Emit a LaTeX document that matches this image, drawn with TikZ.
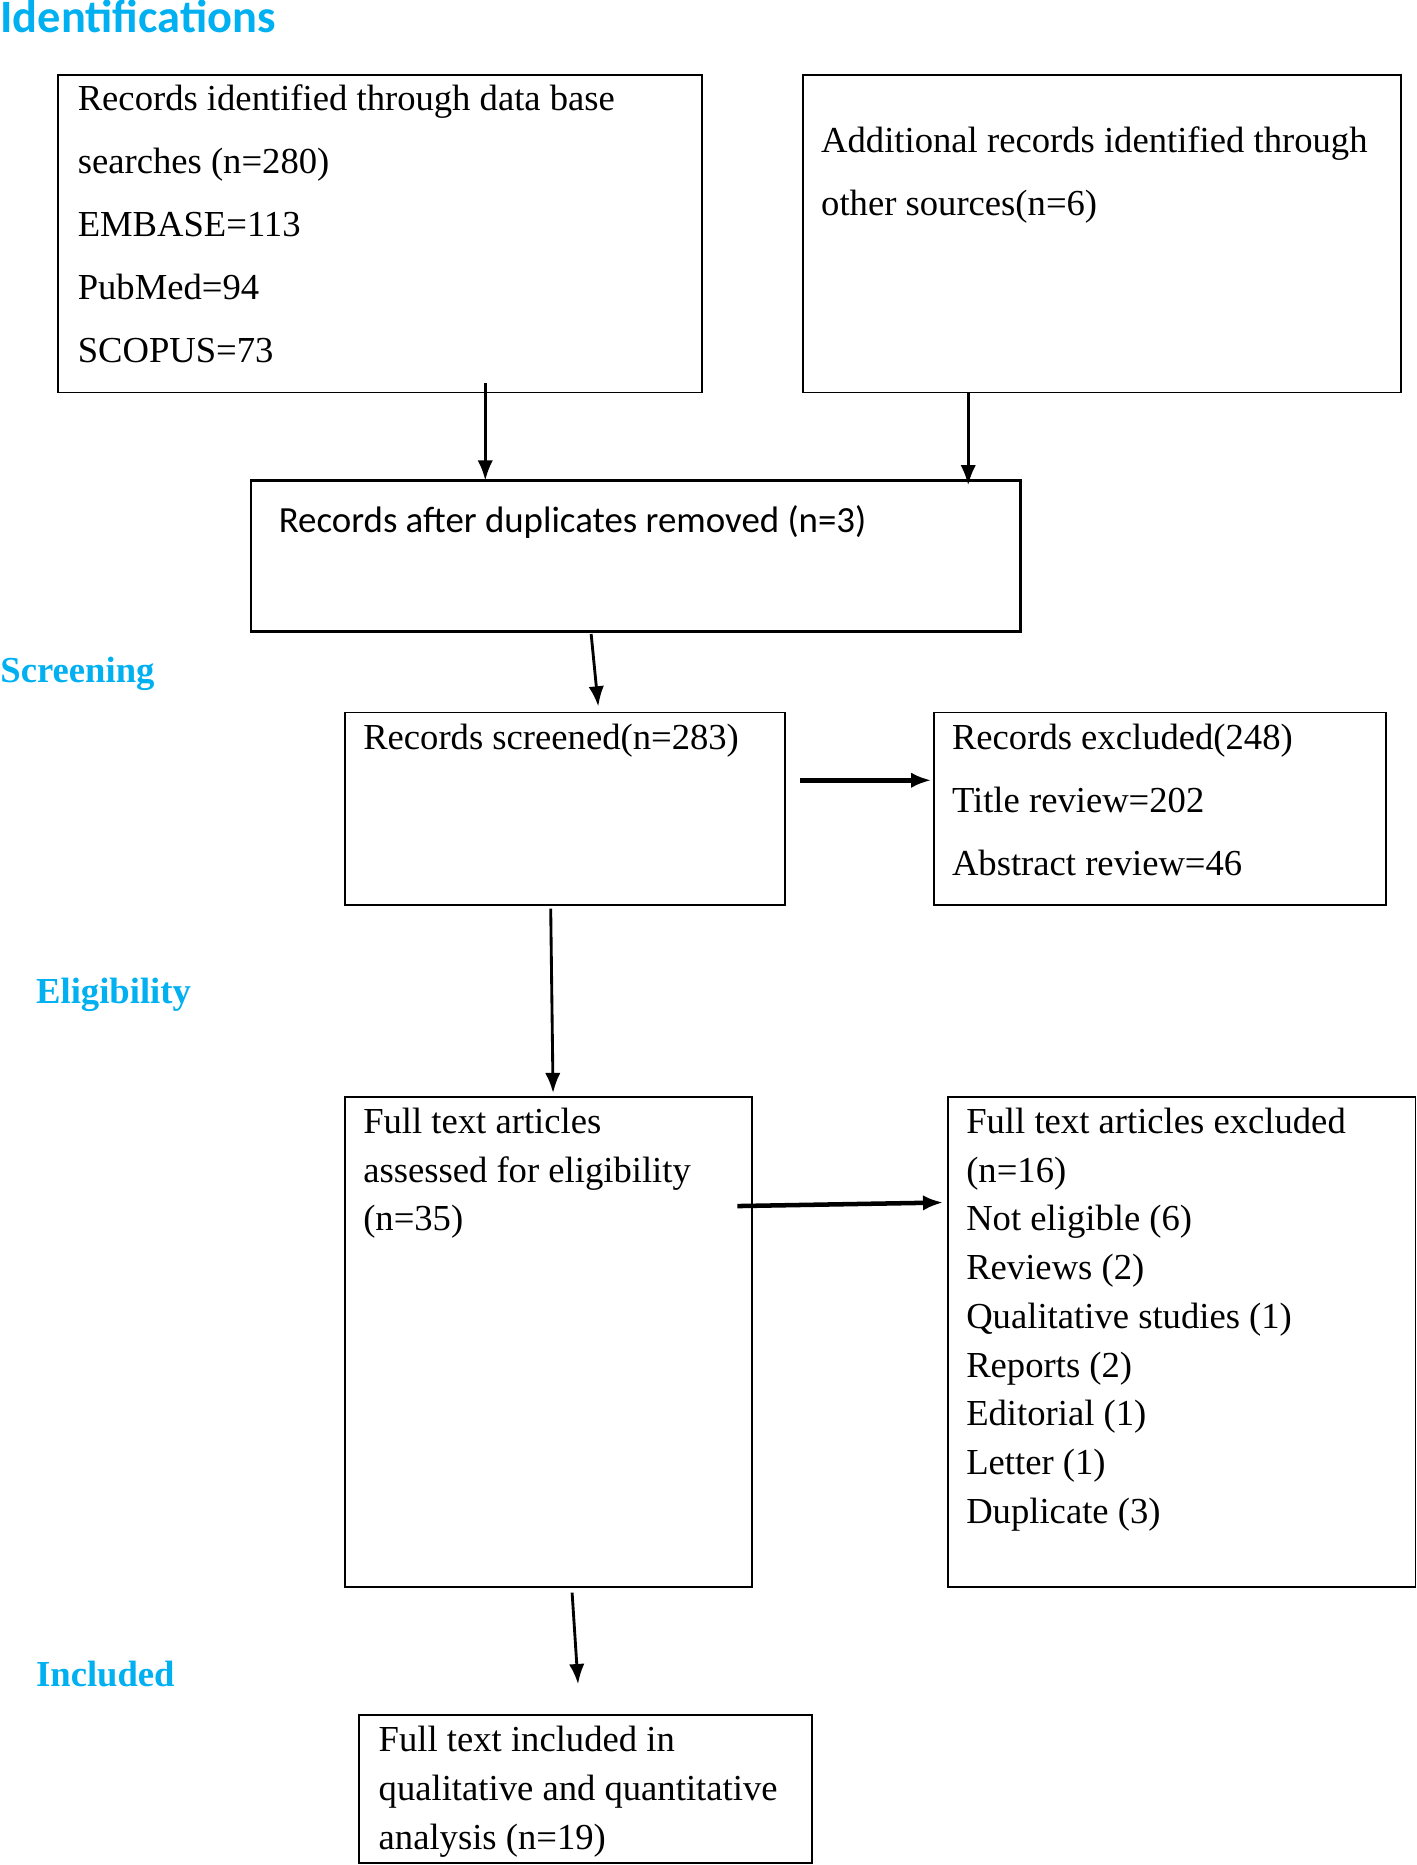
\documentclass[tikz,border=0pt]{standalone}
\usepackage{fontspec}
\setmainfont{Liberation Serif}
\newfontfamily\calibri{Carlito}
\usetikzlibrary{arrows.meta}
\definecolor{hdcyan}{HTML}{00B0F0}
\begin{document}
\begin{tikzpicture}[x=0.5pt,y=-0.5pt,
  box/.style={draw, line width=0.75pt, anchor=north west, inner sep=0pt, outer sep=0pt},
  txt/.style={anchor=north west, inner sep=0pt, align=left, font=\fontsize{15.4}{26.5}\selectfont},
  txtb/.style={txt, font=\fontsize{15.4}{20.5}\selectfont},
  phase/.style={anchor=base west, inner sep=0pt, text=hdcyan, font=\fontsize{15.4}{18}\selectfont\bfseries},
  arr/.style={-{Latex[length=8.5pt,width=6.5pt]}, line width=1.2pt},
  arrb/.style={arr, line width=1.9pt}]
\path[use as bounding box] (0,0) rectangle (1191,1568);

% phase labels
\node[phase, font=\calibri\fontsize{19.5}{22}\selectfont\bfseries] (labI) at (0,27) {Identifications};
\node[phase] (labS) at (0,574) {Screening};
\node[phase] (labE) at (30,844) {Eligibility};
\node[phase] (labN) at (30,1418) {Included};

% boxes
\node[box, minimum width=270.5pt, minimum height=133.5pt] (A) at (49,63) {};
\node[box, minimum width=251.5pt, minimum height=133.5pt] (B) at (675,63) {};
\node[box, line width=1.2pt, minimum width=323.5pt, minimum height=63.5pt] (C) at (211,404) {};
\node[box, minimum width=185pt, minimum height=81pt] (D) at (290,599) {};
\node[box, minimum width=190pt, minimum height=81pt] (E) at (785,599) {};
\node[box, minimum width=171pt, minimum height=206pt] (F) at (290,922) {};
\node[box, minimum width=196.5pt, minimum height=206pt] (G) at (797,922) {};
\node[box, minimum width=190.5pt, minimum height=62pt] (H) at (302,1442) {};

% texts
\node[txt] (tA) at ([shift={(16,8)}]A.north west)
  {Records identified through data base\\searches (n=280)\\EMBASE=113\\PubMed=94\\SCOPUS=73};
\node[txt] (tB) at ([shift={(15,43)}]B.north west)
  {Additional records identified through\\other sources(n=6)};
\node[anchor=north west, inner sep=0pt, font=\calibri\fontsize{15.5}{18}\selectfont] (tC)
  at ([shift={(23,21)}]C.north west) {Records after duplicates removed (n=3)};
\node[txt] (tD) at ([shift={(15,9)}]D.north west) {Records screened(n=283)};
\node[txt] (tE) at ([shift={(15,9)}]E.north west)
  {Records excluded(248)\\Title review=202\\Abstract review=46};
\node[txtb] (tF) at ([shift={(15,9)}]F.north west)
  {Full text articles\\assessed for eligibility\\(n=35)};
\node[txtb] (tG) at ([shift={(15,9)}]G.north west)
  {Full text articles excluded\\(n=16)\\Not eligible (6)\\Reviews (2)\\Qualitative studies (1)\\Reports (2)\\Editorial (1)\\Letter (1)\\Duplicate (3)};
\node[txtb] (tH) at ([shift={(16,9)}]H.north west)
  {Full text included in\\qualitative and quantitative\\analysis (n=19)};

% connectors
\draw[arr] ([shift={(88.5,-8)}]A.south) -- ([shift={(-126.5,0)}]C.north);
\draw[arr] ([shift={(-112.5,0)}]B.south) -- ([shift={(279.5,4)}]C.north);
\draw[arr] ([shift={(-37.5,2)}]C.south) -- ([shift={(28,-5)}]D.north);
\draw[arrb] ([shift={(13,-24)}]D.east) -- ([shift={(-2,-24)}]E.west);
\draw[arr] ([shift={(-12,3)}]D.south) -- ([shift={(4,-3)}]F.north);
\draw[arrb] ([shift={(-12,-114)}]F.east) -- ([shift={(-4,-117)}]G.west);
\draw[arr] ([shift={(20,5)}]F.south) -- ([shift={(-6.5,-26)}]H.north);
\end{tikzpicture}
\end{document}
